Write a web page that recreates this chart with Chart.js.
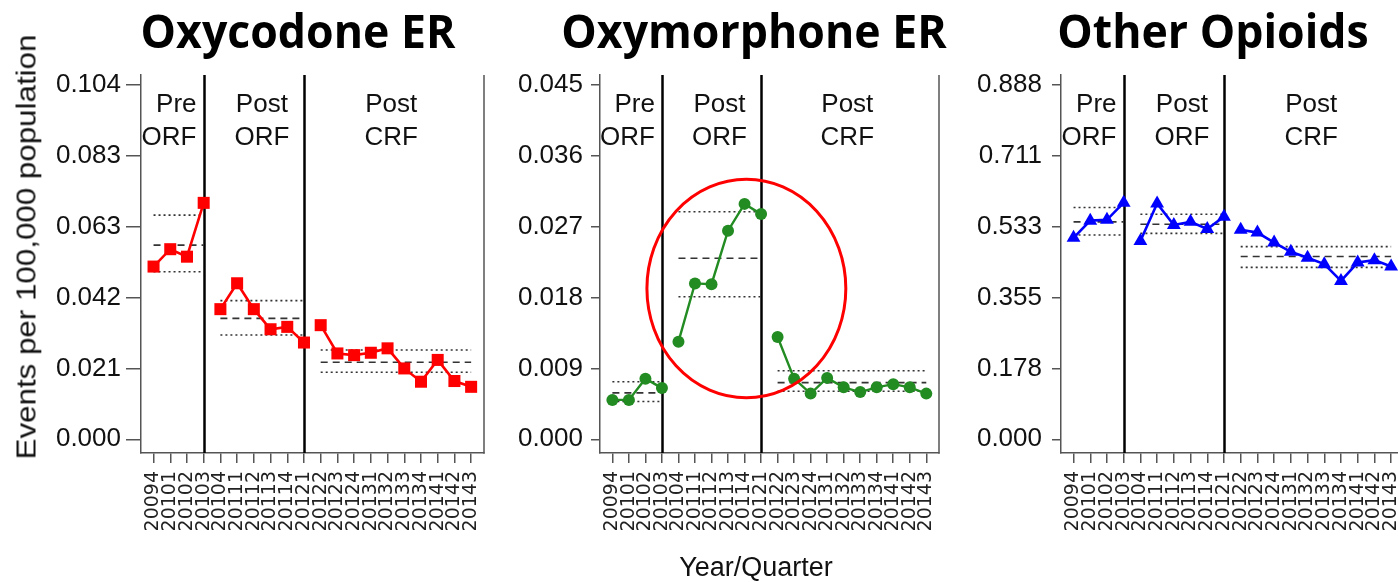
<!DOCTYPE html>
<html><head><meta charset="utf-8">
<script src="https://cdn.jsdelivr.net/npm/chart.js@4/dist/chart.umd.min.js"></script>
<style>
html,body{margin:0;padding:0;background:#fff;overflow:hidden;}
#wrap{position:relative;width:1398px;height:582px;overflow:hidden;background:#fff;}
canvas{position:absolute;top:0;}
.ttl{position:absolute;top:7px;font-family:'Open Sans',sans-serif;font-weight:700;font-size:46px;line-height:46px;white-space:nowrap;color:#000;transform:translateX(-50%) scaleX(0.97);}
.ytitle{position:absolute;left:27px;top:247px;font-family:'Liberation Sans',Arial,sans-serif;font-size:27px;line-height:27px;white-space:nowrap;color:#111;transform:translate(-50%,-50%) rotate(-90deg) scaleX(1.16);}
.xtitle{position:absolute;left:756px;top:554px;font-family:'Liberation Sans',Arial,sans-serif;font-size:27px;line-height:27px;white-space:nowrap;color:#111;transform:translateX(-50%);}
</style></head><body>
<div id="wrap">
  <canvas id="c1" width="495" height="582" style="left:0px"></canvas>
  <canvas id="c2" width="456" height="582" style="left:495px"></canvas>
  <canvas id="c3" width="461" height="582" style="left:955px"></canvas>
  <div class="ttl" style="left:298px">Oxycodone ER</div>
  <div class="ttl" style="left:754px">Oxymorphone ER</div>
  <div class="ttl" style="left:1213px">Other Opioids</div>
  <div class="ytitle">Events per 100,000 population</div>
  <div class="xtitle">Year/Quarter</div>
</div>
<script>
// ---------------- data ----------------
const quarters = ['20094','20101','20102','20103','20104','20111','20112','20113','20114','20121',
                  '20122','20123','20124','20131','20132','20133','20134','20141','20142','20143'];

const oxycodoneER   = [0.0507,0.0558,0.0536,0.0694,0.0382,0.0458,0.0382,0.0323,0.0330,0.0284,
                       0.0335,0.0252,0.0247,0.0254,0.0267,0.0208,0.0169,0.0233,0.0171,0.0154];
const oxymorphoneER = [0.0050,0.0050,0.0077,0.0065,0.0124,0.0198,0.0197,0.0265,0.0299,0.0286,
                       0.0130,0.0077,0.0058,0.0078,0.0066,0.0060,0.0066,0.0070,0.0066,0.0058];
const otherOpioids  = [0.505,0.548,0.550,0.593,0.497,0.591,0.537,0.545,0.527,0.558,
                       0.525,0.518,0.493,0.470,0.455,0.439,0.397,0.443,0.449,0.433];

// period summary lines (Pre ORF, Post ORF, Post CRF)
const oxycodoneLo   = [0.0492,0.0306,0.0197];
const oxycodoneMean = [0.0570,0.0355,0.0226];
const oxycodoneHi   = [0.0658,0.0407,0.0262];
const oxymorphoneLo   = [0.0048,0.0181,0.0061];
const oxymorphoneMean = [0.0059,0.0230,0.0072];
const oxymorphoneHi   = [0.0073,0.0289,0.0087];
const otherLo   = [0.512,0.516,0.431];
const otherMean = [0.545,0.539,0.458];
const otherHi   = [0.581,0.564,0.483];

const periodStart = [0,4,10];
const periodEnd   = [3,9,19];
const periodTop    = ['Pre','Post','Post'];
const periodBottom = ['ORF','ORF','CRF'];
const separators  = [3,9];

const ticks1 = ['0.000','0.021','0.042','0.063','0.083','0.104'];
const ticks2 = ['0.000','0.009','0.018','0.027','0.036','0.045'];
const ticks3 = ['0.000','0.178','0.355','0.533','0.711','0.888'];
const top1 = 0.104, top2 = 0.045, top3 = 0.888;

// -------------- helpers ---------------
const phaseLabelX = [2.57, 6.48, 14.22];
const phaseAlign  = ['right','center','center'];

const panelPlugin = {
  id:'panelDeco',
  beforeDatasetsDraw(chart){
    const {ctx, chartArea:a, scales:{x}} = chart;
    ctx.save();
    ctx.strokeStyle = '#000'; ctx.lineWidth = 2.5;
    separators.forEach(s=>{
      const px = Math.round(x.getPixelForValue(s))+0.5;
      ctx.beginPath(); ctx.moveTo(px,a.top); ctx.lineTo(px,a.bottom); ctx.stroke();
    });
    ctx.strokeStyle = '#555'; ctx.lineWidth = 1.5;
    ctx.beginPath(); ctx.moveTo(a.right,a.top); ctx.lineTo(a.right,a.bottom+0.75); ctx.stroke();
    ctx.fillStyle = '#111';
    ctx.font = '26px "Liberation Sans", Arial, sans-serif';
    ctx.textBaseline = 'alphabetic';
    periodTop.forEach((t,i)=>{
      ctx.textAlign = phaseAlign[i];
      const px = x.getPixelForValue(phaseLabelX[i]);
      ctx.fillText(t, px, a.top+37);
      ctx.fillText(periodBottom[i], px, a.top+70);
    });
    ctx.restore();
  },
  afterDatasetsDraw(chart, args, opts){
    if(!opts.ellipse) return;
    const {ctx, scales:{x,y}} = chart;
    const e = opts.ellipse;
    const cx = x.getPixelForValue(e.x), cy = y.getPixelForValue(e.y);
    const rx = Math.abs(x.getPixelForValue(e.x+e.rx)-cx);
    const ry = Math.abs(y.getPixelForValue(e.y+e.ry)-cy);
    ctx.save();
    ctx.strokeStyle = '#ff0000'; ctx.lineWidth = 3;
    ctx.beginPath(); ctx.ellipse(cx,cy,rx,ry,0,0,Math.PI*2); ctx.stroke();
    ctx.restore();
  }
};

function bandSets(lo, mean, hi){
  const out = [];
  periodStart.forEach((s,i)=>{
    const e = periodEnd[i];
    [[hi[i],[2,3]],[mean[i],[7,5]],[lo[i],[2,3]]].forEach(([v,dash])=>{
      out.push({data:[{x:s,y:v},{x:e,y:v}], borderColor:'#333', borderWidth:1.6,
                borderDash:dash, pointRadius:0, fill:false, tension:0});
    });
  });
  return out;
}

function makeChart(id, values, color, style, radius, lineW, lo, mean, hi, tickLabels, topVal, yW, tickLen, tickPad, padRight, ellipse){
  const main = {
    data: values.map((v,i)=>({x:i,y:v})),
    borderColor: color, backgroundColor: color, borderWidth: lineW,
    pointStyle: style, pointRadius: radius, pointBorderWidth: 0,
    pointBackgroundColor: color, fill:false, tension:0,
    segment:{ borderColor: c => separators.includes(c.p0DataIndex) ? 'rgba(0,0,0,0)' : color }
  };
  return new Chart(document.getElementById(id), {
    type:'line',
    data:{ datasets:[main, ...bandSets(lo,mean,hi)] },
    options:{
      responsive:false, animation:false, events:[],
      layout:{ padding:{ top:75, right:padRight, left:0, bottom:0 } },
      plugins:{ legend:{display:false}, tooltip:{enabled:false}, panelDeco:{ ellipse } },
      scales:{
        x:{ type:'linear', min:-0.75, max:19.77,
            afterBuildTicks: s => { s.ticks = quarters.map((q,i)=>({value:i})); },
            afterFit: s => { s.height = 129; s.paddingLeft = 0; s.paddingRight = 0; },
            ticks:{ autoSkip:false, minRotation:90, maxRotation:90, padding:8,
                    callback:(v,i)=>quarters[i],
                    font:{family:'DejaVu Sans', size:19}, color:'#222' },
            grid:{ drawOnChartArea:false, drawTicks:true, tickLength:10, color:'#555', lineWidth:1.5 },
            border:{ display:true, color:'#555', width:1.5 }
        },
        y:{ type:'linear', min:-0.0387*topVal, max:1.0282*topVal,
            afterBuildTicks: s => { s.ticks = tickLabels.map((t,i)=>({value: topVal*i/(tickLabels.length-1)})); },
            afterFit: s => { s.width = yW; s.paddingTop = 0; s.paddingBottom = 0; },
            ticks:{ padding:tickPad, callback:(v,i)=>tickLabels[i],
                    font:{family:'Liberation Sans', size:26}, color:'#111' },
            grid:{ drawOnChartArea:false, drawTicks:true, tickLength:tickLen, color:'#555', lineWidth:1.5 },
            border:{ display:true, color:'#555', width:1.5 }
        }
      }
    },
    plugins:[panelPlugin]
  });
}

makeChart('c1', oxycodoneER, '#ff0000', 'rect', 8.5, 2.6, oxycodoneLo, oxycodoneMean, oxycodoneHi, ticks1, top1, 141, 15, 5, 11, null);
makeChart('c2', oxymorphoneER, '#228b22', 'circle', 6, 2.4, oxymorphoneLo, oxymorphoneMean, oxymorphoneHi, ticks2, top2, 105, 9, 8, 12, {x:8.11, y:0.01915, rx:6.02, ry:0.01387});
makeChart('c3', otherOpioids, '#0000ff', 'triangle', 8, 2.6, otherLo, otherMean, otherHi, ticks3, top3, 106, 9, 10, 12, null);
</script>
</body></html>
